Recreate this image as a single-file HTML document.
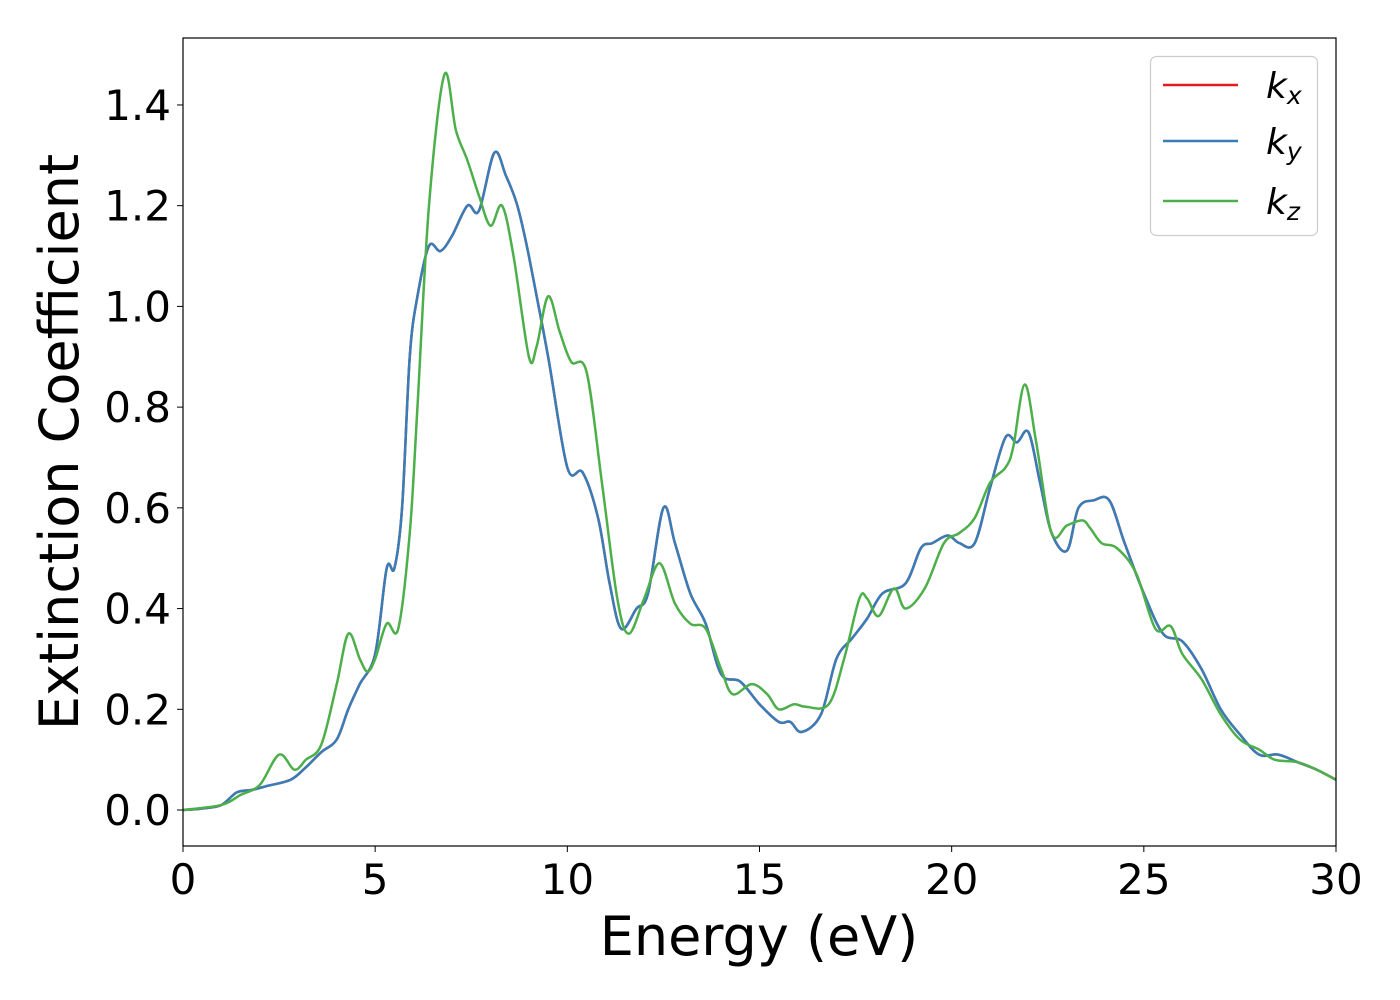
<!DOCTYPE html>
<html><head><meta charset="utf-8"><style>
html,body{margin:0;padding:0;background:#fff;}
svg{display:block;font-family:"DejaVu Sans","Liberation Sans",sans-serif;}
</style></head><body>
<svg id="chart" width="1400" height="1000" viewBox="0 0 1400 1000" xmlns="http://www.w3.org/2000/svg">
<rect x="0" y="0" width="1400" height="1000" fill="#fff"/>
<g id="plot"></g>
<rect x="183" y="38" width="1153" height="808" fill="none" stroke="#000" stroke-width="1.2"/>
<g id="ticks"></g>
<text x="759" y="955" font-size="54" text-anchor="middle">Energy (eV)</text>
<text transform="translate(78,442) rotate(-90)" font-size="54" text-anchor="middle">Extinction Coefficient</text>
<g>
<rect x="1150.5" y="56.5" width="167" height="179" rx="6" fill="#fff" stroke="#ccc" stroke-width="1.2"/>
<line x1="1163" y1="85" x2="1238" y2="85" stroke="#e41a1c" stroke-width="2.5"/>
<text x="1266" y="98" font-size="36" font-style="italic">k<tspan font-size="25" dy="6">x</tspan></text>
<line x1="1163" y1="141" x2="1238" y2="141" stroke="#377eb8" stroke-width="2.5"/>
<text x="1266" y="154" font-size="36" font-style="italic">k<tspan font-size="25" dy="6">y</tspan></text>
<line x1="1163" y1="201" x2="1238" y2="201" stroke="#4daf4a" stroke-width="2.5"/>
<text x="1266" y="214" font-size="36" font-style="italic">k<tspan font-size="25" dy="6">z</tspan></text>
</g>
</svg>
<script>
const xTicks=[0,5,10,15,20,25,30];
const yTicks=[0,0.2,0.4,0.6,0.8,1.0,1.2,1.4];
const kxyE=[0,0.5,1,1.4,1.8,2.2,2.8,3.2,3.6,4.0,4.3,4.6,5.0,5.3,5.5,5.7,5.9,6.1,6.4,6.7,7.0,7.4,7.7,8.1,8.4,8.7,9.0,9.5,10.0,10.4,10.8,11.1,11.4,11.8,12.1,12.5,12.8,13.2,13.6,14.0,14.5,15.0,15.5,15.8,16.1,16.6,17.0,17.4,17.8,18.2,18.8,19.2,19.5,19.9,20.2,20.6,21.0,21.4,21.7,22.0,22.3,22.6,23.0,23.3,23.7,24.1,24.5,25.0,25.5,26.0,26.5,27.0,27.5,28.0,28.5,29.0,29.5,30.0];
const kxyV=[0,0.003,0.01,0.035,0.04,0.048,0.06,0.085,0.115,0.14,0.2,0.25,0.31,0.48,0.48,0.6,0.9,1.02,1.12,1.11,1.14,1.2,1.19,1.305,1.26,1.2,1.1,0.9,0.68,0.67,0.58,0.45,0.36,0.4,0.43,0.6,0.53,0.43,0.37,0.27,0.255,0.21,0.175,0.175,0.155,0.19,0.3,0.34,0.38,0.43,0.45,0.52,0.53,0.545,0.53,0.53,0.64,0.74,0.73,0.75,0.65,0.55,0.515,0.6,0.615,0.615,0.53,0.43,0.35,0.335,0.28,0.2,0.15,0.11,0.11,0.095,0.08,0.06];
const kzE=[0,1,1.5,2.0,2.5,2.9,3.2,3.6,4.0,4.3,4.6,4.8,5.0,5.3,5.6,5.9,6.1,6.4,6.8,7.1,7.4,7.7,8.0,8.3,8.6,9.0,9.2,9.5,9.8,10.1,10.5,10.9,11.3,11.6,12.0,12.4,12.8,13.2,13.6,14.0,14.3,14.8,15.2,15.5,15.9,16.2,16.8,17.2,17.6,17.8,18.1,18.5,18.8,19.3,19.8,20.2,20.6,21.0,21.4,21.6,21.9,22.2,22.6,23.0,23.4,23.6,23.9,24.3,24.8,25.3,25.7,26.0,26.5,27.0,27.5,28.0,28.4,29.0,29.5,30];
const kzV=[0,0.01,0.03,0.05,0.11,0.08,0.1,0.13,0.25,0.35,0.3,0.275,0.3,0.37,0.36,0.55,0.8,1.2,1.46,1.35,1.29,1.22,1.16,1.2,1.1,0.9,0.92,1.02,0.95,0.89,0.87,0.65,0.42,0.35,0.42,0.49,0.41,0.37,0.36,0.28,0.23,0.25,0.23,0.2,0.21,0.205,0.21,0.3,0.42,0.42,0.385,0.44,0.4,0.44,0.53,0.55,0.58,0.65,0.68,0.72,0.845,0.73,0.55,0.565,0.575,0.56,0.53,0.52,0.47,0.36,0.365,0.31,0.26,0.19,0.14,0.12,0.1,0.095,0.08,0.06];
const NS="http://www.w3.org/2000/svg";
const X0=183,X1=1336,Y0=810,YPU=503.6;
function xs(e){return X0+(e/30)*(X1-X0);}
function ys(v){return Y0-v*YPU;}
function pathD(E,V){
  const p=E.map((e,i)=>[xs(e),ys(V[i])]);
  let d="M"+p[0][0]+","+p[0][1];
  for(let i=0;i<p.length-1;i++){
    const a=p[Math.max(0,i-1)],b=p[i],c=p[i+1],n=p[Math.min(p.length-1,i+2)];
    const c1=[b[0]+(c[0]-a[0])/6,b[1]+(c[1]-a[1])/6],c2=[c[0]-(n[0]-b[0])/6,c[1]-(n[1]-b[1])/6];
    d+=" C"+c1.join(",")+" "+c2.join(",")+" "+c.join(",");
  }
  return d;
}
const plot=document.getElementById("plot");
const clip=document.createElementNS(NS,"clipPath");clip.setAttribute("id","cp");
const cr=document.createElementNS(NS,"rect");cr.setAttribute("x",X0);cr.setAttribute("y",38);cr.setAttribute("width",X1-X0);cr.setAttribute("height",808);
clip.appendChild(cr);plot.appendChild(clip);
plot.setAttribute("clip-path","url(#cp)");
const series=[["kx",kxyE,kxyV,"#e41a1c"],["ky",kxyE,kxyV,"#377eb8"],["kz",kzE,kzV,"#4daf4a"]];
series.forEach(s=>{
  const el=document.createElementNS(NS,"path");
  
  
  el.setAttribute("d",pathD(s[1],s[2]));
  el.setAttribute("fill","none");el.setAttribute("stroke",s[3]);el.setAttribute("stroke-width","2.5");
  plot.appendChild(el);
});
const tg=document.getElementById("ticks");
xTicks.forEach(t=>{
  const l=document.createElementNS(NS,"line");
  
  
  l.setAttribute("x1",xs(t));l.setAttribute("x2",xs(t));l.setAttribute("y1",846);l.setAttribute("y2",852);l.setAttribute("stroke","#000");
  tg.appendChild(l);
  const tx=document.createElementNS(NS,"text");
  
  
  tx.setAttribute("x",xs(t));tx.setAttribute("y",894);tx.setAttribute("font-size","42");tx.setAttribute("text-anchor","middle");
  tx.textContent=t;tg.appendChild(tx);
});
yTicks.forEach(t=>{
  const l=document.createElementNS(NS,"line");
  
  
  l.setAttribute("x1",177);l.setAttribute("x2",183);l.setAttribute("y1",ys(t));l.setAttribute("y2",ys(t));l.setAttribute("stroke","#000");
  tg.appendChild(l);
  const tx=document.createElementNS(NS,"text");
  
  
  tx.setAttribute("x",171);tx.setAttribute("y",ys(t)+15);tx.setAttribute("font-size","42");tx.setAttribute("text-anchor","end");
  tx.textContent=t.toFixed(1);tg.appendChild(tx);
});
</script>
</body></html>
